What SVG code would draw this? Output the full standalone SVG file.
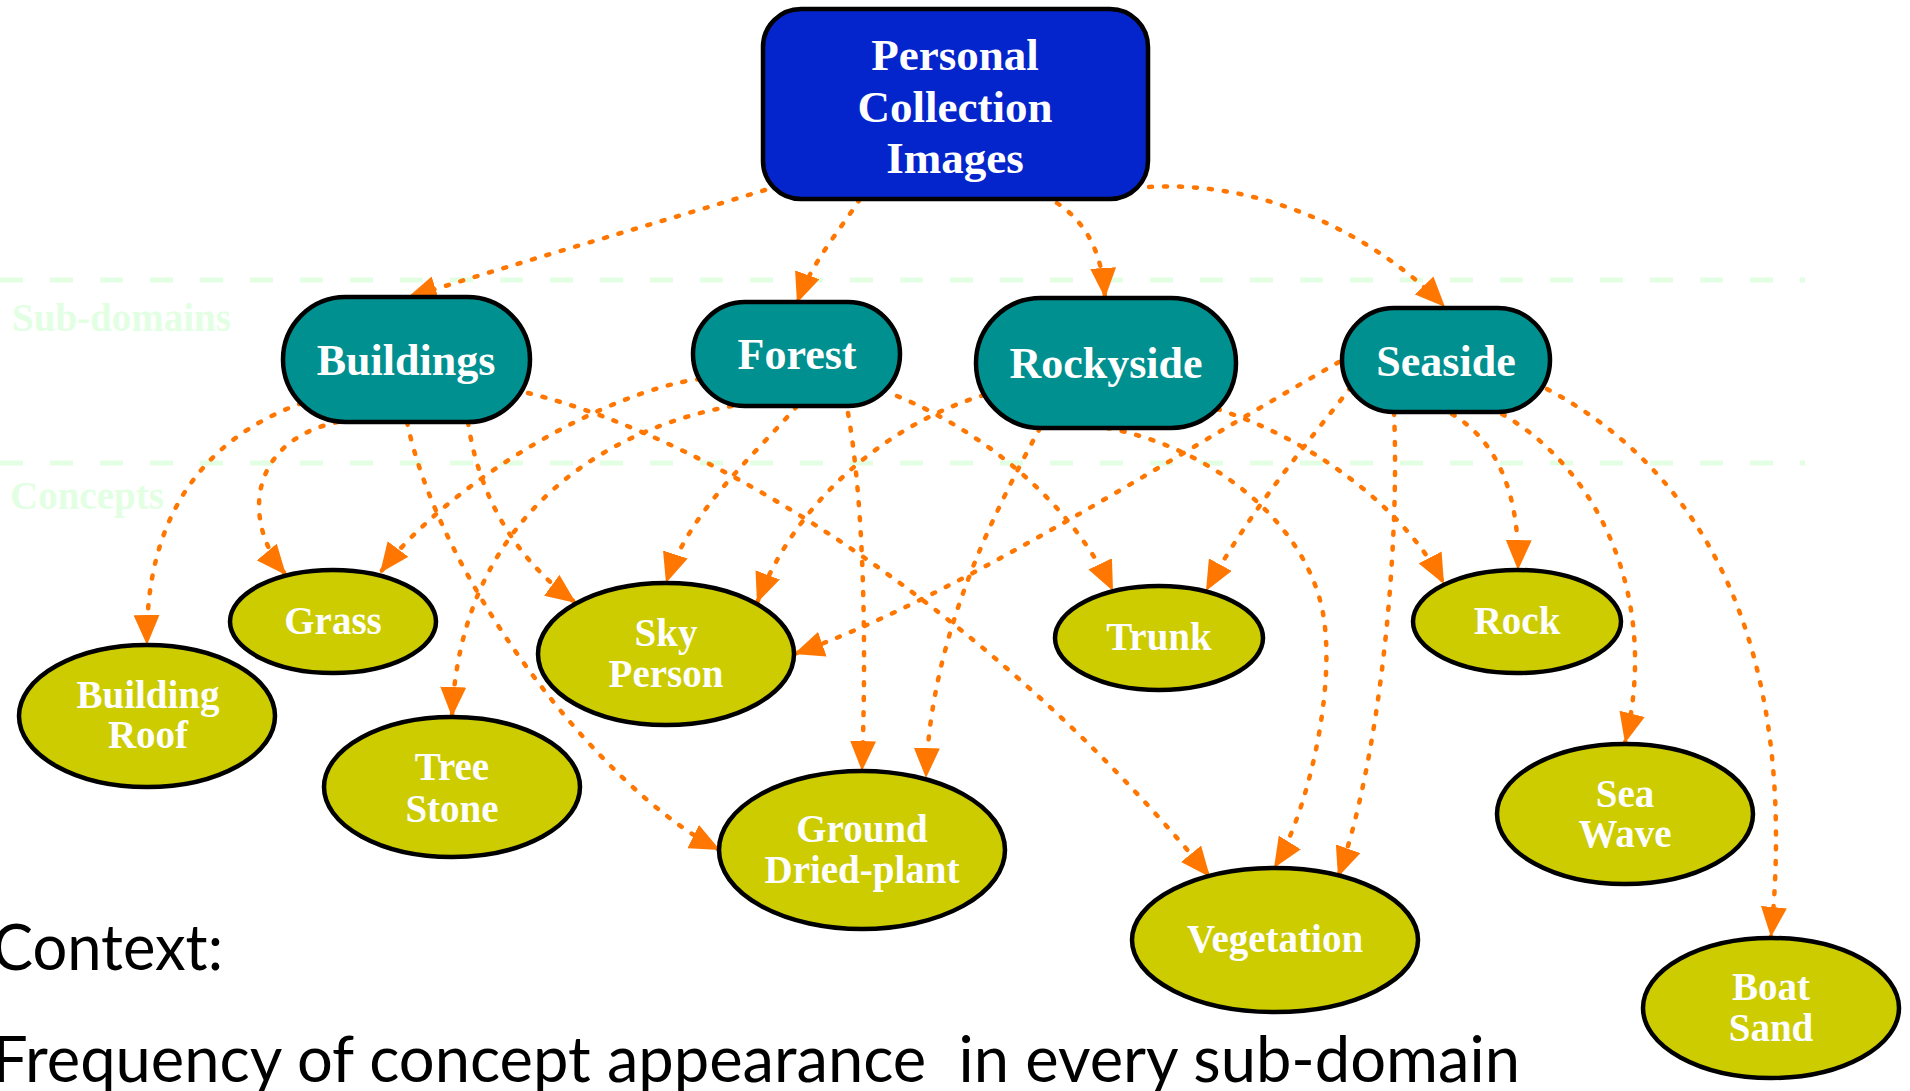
<svg xmlns="http://www.w3.org/2000/svg" width="1910" height="1091" viewBox="0 0 1910 1091">
<style>
.sep{stroke:#E3FFE3;stroke-width:5;stroke-dasharray:23 27;fill:none}
.lbl{font-family:"Liberation Serif",serif;font-weight:bold;font-size:39px;fill:#E3FFE3}
.e{fill:none;stroke:#FF7700;stroke-width:4.5;stroke-dasharray:3 12;stroke-linecap:round;marker-end:url(#ah)}
.top{fill:#0525CC;stroke:#000;stroke-width:4.5}
.sub{fill:#009090;stroke:#000;stroke-width:4.5}
.con{fill:#CCCC00;stroke:#000;stroke-width:4.5}
.t{font-family:"Liberation Serif",serif;font-weight:bold;fill:#fff;text-anchor:middle}
.tt{font-size:45px}
.ts{font-size:44px}
.tc{font-size:39px}
.ctx{font-family:"Lato","Open Sans",sans-serif;font-size:64px;fill:#000}
</style>
<defs>
<marker id="ah" markerUnits="userSpaceOnUse" markerWidth="30" markerHeight="26" viewBox="0 0 30 26" refX="30" refY="13" orient="auto">
<path d="M0,0 L30,13 L0,26 z" fill="#FF7700"/>
</marker>
</defs>
<rect width="1910" height="1091" fill="#fff"/>
<g id="layers">
<line class="sep" x1="0" y1="280" x2="1805" y2="280"/>
<line class="sep" x1="0" y1="463" x2="1805" y2="463"/>
<text class="lbl" x="12" y="331">Sub-domains</text>
<text class="lbl" x="10" y="509">Concepts</text>
</g>
<g id="connectors">
<path class="e" d="M765,190 C650,225 520,262 407,298"/>
<path class="e" d="M860,199 C840,230 812,262 797,303"/>
<path class="e" d="M1057,203 C1085,222 1102,250 1105,298"/>
<path class="e" d="M1149,187 C1270,180 1380,240 1445,307"/>
<path class="e" d="M302,403 C200,440 145,520 147,645"/>
<path class="e" d="M338,422 C250,440 240,520 286,575"/>
<path class="e" d="M407,422 C440,580 600,790 720,850"/>
<path class="e" d="M468,422 C478,490 510,555 576,603"/>
<path class="e" d="M528,393 C720,440 1000,620 1210,877"/>
<path class="e" d="M700,379 C610,390 450,480 380,573"/>
<path class="e" d="M732,406 C600,430 460,520 452,717"/>
<path class="e" d="M797,406 C750,460 690,510 666,583"/>
<path class="e" d="M848,413 C860,480 868,600 862,771"/>
<path class="e" d="M897,396 C980,430 1070,500 1113,591"/>
<path class="e" d="M984,395 C900,420 800,490 757,603"/>
<path class="e" d="M1040,428 C990,520 930,640 926,778"/>
<path class="e" d="M1107,428 C1200,445 1295,510 1320,600 C1340,672 1310,810 1274,868"/>
<path class="e" d="M1217,409 C1300,435 1400,500 1444,584"/>
<path class="e" d="M1339,362 C1150,470 950,600 794,654"/>
<path class="e" d="M1351,387 C1310,440 1250,510 1206,591"/>
<path class="e" d="M1394,412 C1400,550 1380,760 1338,877"/>
<path class="e" d="M1452,414 C1495,440 1520,490 1518,570"/>
<path class="e" d="M1502,414 C1600,470 1660,600 1625,743"/>
<path class="e" d="M1547,389 C1700,470 1800,640 1771,937"/>
</g>
<g id="node-personal">
<rect class="top" x="763" y="9" width="385" height="190" rx="38"/>
<text class="t tt" x="955" y="70">Personal</text>
<text class="t tt" x="955" y="122">Collection</text>
<text class="t tt" x="955" y="173">Images</text>
</g>
<g id="node-buildings">
<rect class="sub" x="283" y="297" width="247" height="125" rx="62.5"/>
<text class="t ts" x="406" y="375">Buildings</text>
</g>
<g id="node-forest">
<rect class="sub" x="693" y="302" width="207" height="104" rx="52"/>
<text class="t ts" x="797" y="369">Forest</text>
</g>
<g id="node-rockyside">
<rect class="sub" x="976" y="298" width="260" height="130" rx="65"/>
<text class="t ts" x="1106" y="378">Rockyside</text>
</g>
<g id="node-seaside">
<rect class="sub" x="1342" y="308" width="208" height="104" rx="52"/>
<text class="t ts" x="1446" y="376">Seaside</text>
</g>
<g id="node-grass">
<ellipse class="con" cx="333" cy="621.5" rx="103" ry="51.5"/>
<text class="t tc" x="333" y="634">Grass</text>
</g>
<g id="node-building-roof">
<ellipse class="con" cx="147" cy="716" rx="128" ry="71"/>
<text class="t tc" x="148" y="708">Building</text>
<text class="t tc" x="148" y="748">Roof</text>
</g>
<g id="node-tree-stone">
<ellipse class="con" cx="452" cy="787" rx="128" ry="70"/>
<text class="t tc" x="452" y="780">Tree</text>
<text class="t tc" x="452" y="822">Stone</text>
</g>
<g id="node-sky-person">
<ellipse class="con" cx="666" cy="654" rx="128" ry="71"/>
<text class="t tc" x="666" y="646">Sky</text>
<text class="t tc" x="666" y="687">Person</text>
</g>
<g id="node-ground">
<ellipse class="con" cx="862" cy="850" rx="143" ry="79"/>
<text class="t tc" x="862" y="842">Ground</text>
<text class="t tc" x="862" y="883">Dried-plant</text>
</g>
<g id="node-trunk">
<ellipse class="con" cx="1159" cy="638" rx="104" ry="52"/>
<text class="t tc" x="1159" y="650">Trunk</text>
</g>
<g id="node-vegetation">
<ellipse class="con" cx="1275" cy="940" rx="143" ry="72"/>
<text class="t tc" x="1275" y="952">Vegetation</text>
</g>
<g id="node-rock">
<ellipse class="con" cx="1517" cy="621.5" rx="104" ry="51.5"/>
<text class="t tc" x="1517" y="634">Rock</text>
</g>
<g id="node-sea-wave">
<ellipse class="con" cx="1625" cy="814" rx="128" ry="70"/>
<text class="t tc" x="1625" y="807">Sea</text>
<text class="t tc" x="1625" y="847">Wave</text>
</g>
<g id="node-boat-sand">
<ellipse class="con" cx="1771" cy="1008" rx="128" ry="70"/>
<text class="t tc" x="1771" y="1000">Boat</text>
<text class="t tc" x="1771" y="1041">Sand</text>
</g>
<g id="caption">
<text class="ctx" x="-8" y="970" textLength="231" lengthAdjust="spacingAndGlyphs">Context:</text>
<text class="ctx" x="-8" y="1082" textLength="1528" lengthAdjust="spacingAndGlyphs" xml:space="preserve">Frequency of concept appearance  in every sub-domain</text>
</g>
</svg>
